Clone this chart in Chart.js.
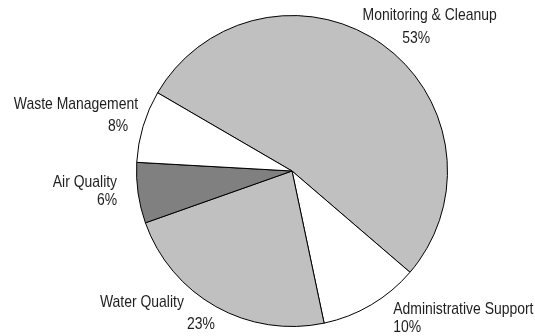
<!DOCTYPE html>
<html>
<head>
<meta charset="utf-8">
<script src="https://cdn.jsdelivr.net/npm/chart.js@4"></script>
<style>
  html, body { margin: 0; padding: 0; background: #fff; }
  #wrap { width: 535px; height: 336px; }
</style>
</head>
<body>
<div id="wrap"><canvas id="chart_pie"></canvas></div>
<script>
let categories = ["Monitoring & Cleanup", "Administrative Support", "Water Quality", "Air Quality", "Waste Management"];
let shares = [52.9, 10.4, 22.9, 6.3, 7.5];
let sliceColors = ["#c0c0c0", "#ffffff", "#c0c0c0", "#808080", "#ffffff"];

// label placement relative to the slice's outer mid point: [dx, dy, align] for name, then for percent
let labelLayout = [
    [[47.5, -29, "center"], [34, -6, "center"]],
    [[22, 5, "left"], [22, 23, "left"]],
    [[-32, -4, "right"], [-1, 18, "right"]],
    [[-21, -10.5, "right"], [-21, 7.5, "right"]],
    [[-5, -22, "right"], [-15, 0, "right"]],
];

// no narrow font installed, so squeeze a regular one
const labelFont = "17px 'Liberation Sans', Arial, sans-serif";
const squeeze = 0.82;

const sliceLabels = {
    id: "sliceLabels",
    afterDraw(chart) {
        let ctx = chart.ctx;
        let arcs = chart.getDatasetMeta(0).data;
        ctx.save();
        ctx.font = labelFont;
        ctx.fillStyle = "#1e1e1e";
        ctx.textBaseline = "middle";
        arcs.forEach((arc, i) => {
            let p = arc.getProps(["x", "y", "startAngle", "endAngle", "outerRadius"], true);
            let mid = (p.startAngle + p.endAngle) / 2;
            let ax = p.x + Math.cos(mid) * p.outerRadius;
            let ay = p.y + Math.sin(mid) * p.outerRadius;
            let lines = [categories[i], Math.round(shares[i]) + "%"];
            lines.forEach((txt, j) => {
                let l = labelLayout[i][j];
                ctx.save();
                ctx.translate(ax + l[0], ay + l[1]);
                ctx.scale(squeeze, 1);
                ctx.textAlign = l[2];
                ctx.fillText(txt, 0, 0);
                ctx.restore();
            });
        });
        ctx.restore();
    }
};

let pie_elm = document.getElementById("chart_pie").getContext("2d");
new Chart(pie_elm, {
    type: "pie",
    data: {
        labels: categories,
        datasets: [{
            data: shares,
            backgroundColor: sliceColors,
            borderColor: "#000000",
            borderWidth: 1,
            borderAlign: "center",
        }]
    },
    options: {
        responsive: true,
        maintainAspectRatio: false,
        animation: false,
        rotation: 300.2,
        layout: { padding: { top: 15, bottom: 9, left: 49, right: 0 } },
        plugins: {
            legend: { display: false },
            tooltip: { enabled: false },
        },
    },
    plugins: [sliceLabels],
});
</script>
</body>
</html>
